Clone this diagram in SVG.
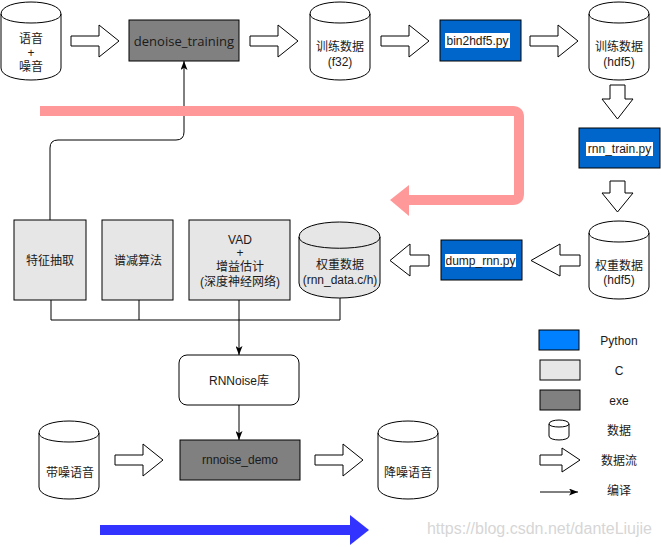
<svg xmlns="http://www.w3.org/2000/svg" width="661" height="547" viewBox="0 0 661 547">
<style>
text{font-family:"Liberation Sans",Arial,"Noto Sans CJK SC",sans-serif;font-size:12px;fill:#1a1a1a;text-anchor:middle}
.ln{fill:none;stroke:#000;stroke-width:1}
.blk{fill:#fff;stroke:#000;stroke-width:1}
.cyl{fill:#fff;stroke:#000;stroke-width:1}
.cylc{fill:#E6E6E6;stroke:#000;stroke-width:1}
.exe{fill:#808080;stroke:#000;stroke-width:1}
.py{fill:#0066CC;stroke:#000;stroke-width:1}
.c{fill:#E6E6E6;stroke:#000;stroke-width:1}
.lbg{fill:#fff}
.wm{fill:#d6d6d6;font-size:16px}
</style>
<defs>
<marker id="arr" viewBox="0 0 9 7" refX="9" refY="3.5" markerWidth="9" markerHeight="7" markerUnits="userSpaceOnUse" orient="auto"><path d="M0,0 L9,3.5 L0,7 L2.2,3.5 Z" fill="#000"/></marker>
<g id="cyl"><path d="M0,12 C0,-4 60,-4 60,12 L60,66 C60,82 0,82 0,66 Z"/><path d="M0,12 C0,24 60,24 60,12" fill="none"/></g>
<path id="ar" d="M0,-5 L28,-5 L28,-16 L48,0 L28,16 L28,5 L0,5 Z"/>
</defs>

<g id="connectors">
<path class="ln" d="M50,220 L50,148 Q50,140 58,140 L176,140 Q184,140 184,132 L184,61" marker-end="url(#arr)"/>
<path class="ln" d="M51,300 L51,320 L340,320 L340,298"/>
<path class="ln" d="M139,300 L139,320"/>
<path class="ln" d="M239,300 L239,355" marker-end="url(#arr)"/>
<path class="ln" d="M239,405 L239,440" marker-end="url(#arr)"/>
<g class="blk">
<use href="#ar" transform="translate(71,41)"/>
<use href="#ar" transform="translate(250,41)"/>
<use href="#ar" transform="translate(381,41)"/>
<use href="#ar" transform="translate(530,41)"/>
<use href="#ar" transform="translate(115,460)"/>
<use href="#ar" transform="translate(315,460)"/>
<path d="M610,85 L625,85 L625,99 L633,99 L617.5,119 L602,99 L610,99 Z"/>
<path d="M610,181 L625,181 L625,193 L633,193 L617.5,212 L602,193 L610,193 Z"/>
<path d="M580,255 L560,255 L560,244 L531,260.5 L560,276 L560,266 L580,266 Z"/>
<path d="M429,255 L410,255 L410,244 L390,260.5 L410,276 L410,266 L429,266 Z"/>
</g>
<g id="pink-flow">
<path d="M40,111 L513,111 Q519,111 519,117 L519,194 Q519,200 513,200 L405,200" fill="none" stroke="#FF9999" stroke-width="10"/>
<path d="M390,200 L409,185 L409,216 Z" fill="#FF9999"/>
</g>
<g id="blue-flow">
<path d="M100,530 L352,530" fill="none" stroke="#3333FF" stroke-width="10"/>
<path d="M350,515 L369,530 L350,545 Z" fill="#3333FF"/>
</g>
</g>

<g id="n-speech-noise">
<use href="#cyl" class="cyl" transform="translate(1,2)"/>
<text x="31" y="43">语音</text><text x="31" y="57">+</text><text x="31" y="71">噪音</text>
</g>
<g id="n-denoise-training">
<rect class="exe" x="129" y="20" width="110" height="41"/>
<text x="184" y="45.5" style="font-family:'Open Sans','Liberation Sans',sans-serif;font-size:13px">denoise_training</text>
</g>
<g id="n-train-f32">
<use href="#cyl" class="cyl" transform="translate(310,2)"/>
<text x="340" y="51">训练数据</text><text x="340" y="66">(f32)</text>
</g>
<g id="n-bin2hdf5">
<rect class="py" x="440" y="20" width="81" height="41"/>
<rect class="lbg" x="445" y="33" width="65" height="15"/>
<text x="477.5" y="45">bin2hdf5.py</text>
</g>
<g id="n-train-hdf5">
<use href="#cyl" class="cyl" transform="translate(589,2)"/>
<text x="619" y="51">训练数据</text><text x="619" y="66">(hdf5)</text>
</g>
<g id="n-rnn-train">
<rect class="py" x="579" y="128" width="81" height="40"/>
<rect class="lbg" x="586" y="142" width="67" height="14"/>
<text x="619.5" y="153">rnn_train.py</text>
</g>
<g id="n-weight-hdf5">
<use href="#cyl" class="cyl" transform="translate(589,221)"/>
<text x="619" y="270">权重数据</text><text x="619" y="284">(hdf5)</text>
</g>
<g id="n-dump-rnn">
<rect class="py" x="441" y="240" width="81" height="40"/>
<rect class="lbg" x="445" y="254" width="71" height="13"/>
<text x="480.5" y="264.5">dump_rnn.py</text>
</g>
<g id="n-weight-c">
<path class="cylc" d="M299,237 C299,217 380,217 380,237 L380,283 C380,303 299,303 299,283 Z"/>
<path class="ln" d="M299,237 C299,252 380,252 380,237"/>
<text x="340" y="269">权重数据</text><text x="340" y="284">(rnn_data.c/h)</text>
</g>
<g id="n-feature">
<rect class="c" x="14" y="220" width="72" height="80"/>
<text x="50" y="265">特征抽取</text>
</g>
<g id="n-spectral">
<rect class="c" x="102" y="220" width="71" height="80"/>
<text x="138" y="265">谱减算法</text>
</g>
<g id="n-vad">
<rect class="c" x="189" y="220" width="101" height="80"/>
<text x="240" y="244">VAD</text><text x="240" y="257">+</text><text x="240" y="271">增益估计</text><text x="240" y="286">(深度神经网络)</text>
</g>
<g id="n-rnnoise-lib">
<rect class="blk" x="179" y="355" width="120" height="50" rx="8"/>
<text x="239" y="385">RNNoise库</text>
</g>
<g id="n-rnnoise-demo">
<rect class="exe" x="180" y="440" width="120" height="40"/>
<text x="240" y="464">rnnoise_demo</text>
</g>
<g id="n-noisy">
<use href="#cyl" class="cyl" transform="translate(39,421)"/>
<text x="70" y="477">带噪语音</text>
</g>
<g id="n-denoised">
<use href="#cyl" class="cyl" transform="translate(378,421)"/>
<text x="408" y="477">降噪语音</text>
</g>

<g id="legend">
<rect x="539" y="330" width="40" height="20" fill="#007FFF" stroke="#000"/>
<text x="619" y="345">Python</text>
<rect class="c" x="540" y="360" width="40" height="20"/>
<text x="619" y="375">C</text>
<rect class="exe" x="540" y="390" width="40" height="20"/>
<text x="619" y="405">exe</text>
<path class="cyl" d="M549,424 C549,418.7 569,418.7 569,424 L569,436 C569,441.3 549,441.3 549,436 Z"/>
<path class="ln" d="M549,424 C549,428 569,428 569,424"/>
<text x="619" y="435">数据</text>
<path class="blk" d="M540,455 L562,455 L562,448 L580,460 L562,472 L562,465 L540,465 Z"/>
<text x="619" y="465">数据流</text>
<path class="ln" d="M540,492 L578,492" marker-end="url(#arr)"/>
<text x="619" y="495">编译</text>
</g>

<text class="wm" x="539.5" y="534">https://blog.csdn.net/danteLiujie</text>
</svg>
